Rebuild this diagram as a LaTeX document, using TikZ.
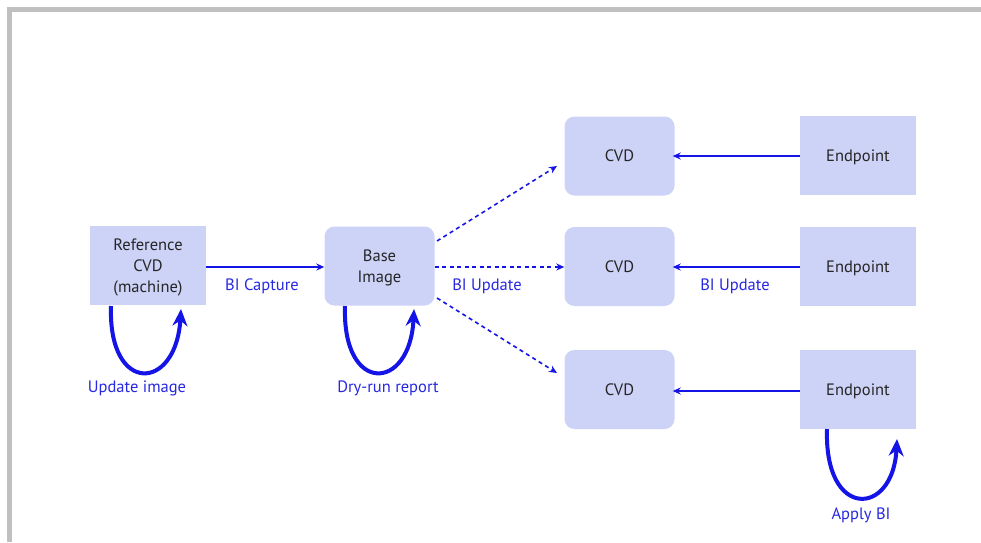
\documentclass[tikz,border=0pt]{standalone}
\usepackage{fontspec}
\setmainfont{PT Sans}
\usetikzlibrary{arrows.meta}
\definecolor{boxfill}{RGB}{205,210,247}
\definecolor{arrblue}{RGB}{20,20,230}
\definecolor{txtblue}{RGB}{40,40,225}
\definecolor{framegray}{RGB}{192,192,192}
\newcommand{\onel}[1]{\raisebox{-5.8pt}[0pt][0pt]{#1}}
\newcommand{\multl}[1]{\raisebox{-6.5pt}[0pt][0pt]{\begin{tabular}{@{}c@{}}#1\end{tabular}}}
\tikzset{
  sqbox/.style={fill=boxfill, minimum width=116pt, minimum height=79pt, inner sep=0pt, align=center, font=\fontsize{16.5}{21}\selectfont, text=black!85},
  rdbox/.style={sqbox, minimum width=110pt, rounded corners=10pt},
  flow/.style={draw=arrblue, line width=1.6pt, -{Stealth[length=8pt,width=7pt]}},
  dflow/.style={flow, dash pattern=on 4pt off 3.5pt},
  loopar/.style={draw=arrblue, line width=4pt, -{Stealth[length=17pt,width=15pt]}},
  lbl/.style={text=txtblue, font=\fontsize{16.5}{21}\selectfont, inner sep=0pt}
}
\begin{document}
\begin{tikzpicture}[x=1pt,y=-1pt]
\useasboundingbox (0,0) rectangle (981,542);
\fill[white] (0,0) rectangle (981,542);
\fill[framegray] (7,7) rectangle (981,12);
\fill[framegray] (7,7) rectangle (12,542);

\node[sqbox] (ref) at (148,265.5) {\multl{Reference\\CVD\\(machine)}};
\node[rdbox] (base) at (379.5,266) {\multl{Base\\Image}};
\node[rdbox] (cvd1) at (619.5,156) {\onel{CVD}};
\node[rdbox] (cvd2) at (619.5,266.5) {\onel{CVD}};
\node[rdbox] (cvd3) at (619.5,389.5) {\onel{CVD}};
\node[sqbox] (ep1) at (858,155.5) {\onel{Endpoint}};
\node[sqbox] (ep2) at (858,266.5) {\onel{Endpoint}};
\node[sqbox] (ep3) at (858,389.5) {\onel{Endpoint}};

\draw[flow] (ref.east |- 0,267) -- (base.west |- 0,267);
\node[lbl] (l1) at (262,286) {BI Capture};

\draw[dflow] (base.east |- 0,267) -- (cvd2.west |- 0,267);
\draw[dflow] (437,241) -- (557,166);
\draw[dflow] (437,298) -- (557,373);
\node[lbl] (l2) at (487,286) {BI Update};

\draw[flow] (ep1.west |- 0,156) -- ([xshift=-2pt]cvd1.east |- 0,156);
\draw[flow] (ep2.west |- 0,267) -- ([xshift=-2pt]cvd2.east |- 0,267);
\draw[flow] (ep3.west |- 0,391) -- ([xshift=-2pt]cvd3.east |- 0,391);
\node[lbl] (l3) at (735,286) {BI Update};

\coordinate (a1) at (111,306);
\coordinate (a2) at (181,309);
\draw[loopar] (a1) .. controls (108,395) and (176,392) .. (a2);
\node[lbl] (l4) at (137,388) {Update image};

\coordinate (b1) at (345,306);
\coordinate (b2) at (414,309);
\draw[loopar] (b1) .. controls (342,395) and (410,392) .. (b2);
\node[lbl] (l5) at (388,388) {Dry-run report};

\coordinate (c1) at (827,429);
\coordinate (c2) at (897,439);
\draw[loopar] (c1) .. controls (824,520) and (893,517) .. (c2);
\node[lbl] (l6) at (861,515) {Apply BI};
\end{tikzpicture}
\end{document}
